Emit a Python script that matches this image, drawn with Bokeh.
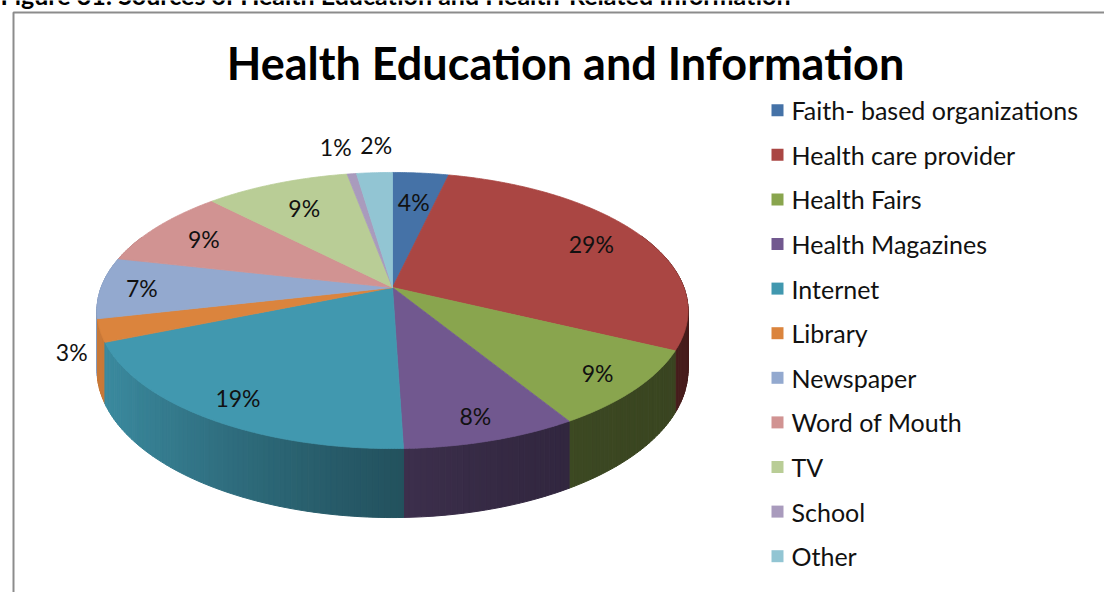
import numpy as np
from bokeh.plotting import figure
from bokeh.models import Range1d, ColumnDataSource
from bokeh.core.properties import value
from bokeh.embed import file_html
from bokeh.resources import INLINE

# ---------------- data ----------------
categories = ["Faith- based organizations", "Health care provider", "Health Fairs",
              "Health Magazines", "Internet", "Library", "Newspaper", "Word of Mouth",
              "TV", "School", "Other"]
values = [3.6, 28.6, 9.1, 8.2, 19.25, 2.65, 7.15, 9.25, 9.3, 0.6, 2.3]
colors = ["#4572A7", "#AA4643", "#89A54E", "#71588F", "#4198AF", "#DB843D",
          "#93A9CF", "#D19392", "#B9CD96", "#A99BBD", "#92C5D3"]
title = "Health Education and Information"
header = "Figure 31: Sources of Health Education and Health-Related Information"

# ---------------- geometry of the 3-D pie (screen px) ----------------
CX, CY = 392.0, 287.0      # centre of the top face
AX, BY = 291.4, 134.2      # projected radii
K = 0.1667                 # perspective strength
HD = 57.5                  # thickness
FONT = "Lato"
LABEL_PX = 23


def proj(theta, r=1.0, depth=0.0):
    u = r * np.sin(theta)
    v = -r * np.cos(theta)
    w = 1 - K * v
    return CX + AX * u / w, CY + (BY * v + HD * depth) / w


def shade(hexcol, f):
    h = hexcol.lstrip("#")
    rgb = [int(h[i:i + 2], 16) for i in (0, 2, 4)]
    return "#%02x%02x%02x" % tuple(max(0, min(255, int(round(c * f)))) for c in rgb)


vals = np.array(values, dtype=float)
fr = vals / vals.sum()
ends = np.cumsum(fr) * 2 * np.pi
starts = ends - fr * 2 * np.pi

xmin_e = CX - AX / np.sqrt(1 - K * K)
xmax_e = CX + AX / np.sqrt(1 - K * K)

# side strips
side = []
step = np.radians(1.0)
for i in range(len(values)):
    n = max(2, int(np.ceil((ends[i] - starts[i]) / step)))
    th = np.linspace(starts[i], ends[i], n + 1)
    for j in range(n):
        a, b = th[j], th[j + 1]
        mid = 0.5 * (a + b)
        vmid = -np.cos(mid)
        if vmid < -0.4:
            continue
        x1, y1 = proj(a)
        x2, y2 = proj(b)
        x3, y3 = proj(b, depth=1)
        x4, y4 = proj(a, depth=1)
        xm = proj(mid)[0]
        t = (xm - xmin_e) / (xmax_e - xmin_e)
        f = 0.42 + 0.5 * (1 - t) ** 2
        side.append((vmid, [x1, x2, x3, x4], [y1, y2, y3, y4], shade(colors[i], f)))
side.sort(key=lambda s: s[0])
side_src = ColumnDataSource(dict(xs=[s[1] for s in side], ys=[s[2] for s in side],
                                 c=[s[3] for s in side]))

# top faces
top_xs, top_ys = [], []
for i in range(len(values)):
    n = max(3, int(np.ceil((ends[i] - starts[i]) / np.radians(0.5))))
    th = np.linspace(starts[i], ends[i], n + 1)
    ax_, ay_ = proj(th)
    top_xs.append([CX] + list(ax_))
    top_ys.append([CY] + list(ay_))
top_src = ColumnDataSource(dict(xs=top_xs, ys=top_ys, c=colors, name=categories))

# data labels
lab_x, lab_y, lab_t, outside = [], [], [], []
for i, v in enumerate(values):
    mid = 0.5 * (starts[i] + ends[i])
    pct = int(v / vals.sum() * 100 + 0.5)
    vv = -np.cos(mid)
    if v >= 3:
        r = 0.86 + 0.14 * min(vv, 0.0)
        x, y = proj(mid, r=r)
        outside.append(False)
    else:
        x, y = proj(mid)
        if vv > 0:
            y += 0.27 * HD / (1 - K * vv)
        dx, dy = x - CX, y - CY
        d = np.hypot(dx, dy)
        x += 29 * dx / d
        y += 28 * dy / d
        outside.append(True)
    lab_x.append(x)
    lab_y.append(y)
    lab_t.append(f"{pct}%")

# spread outside labels that would collide
idx = [i for i in range(len(values)) if outside[i]]
for _ in range(20):
    for a in idx:
        for b in idx:
            if a >= b:
                continue
            if abs(lab_y[a] - lab_y[b]) > LABEL_PX:
                continue
            need = 0.5 * LABEL_PX * 0.62 * (len(lab_t[a]) + len(lab_t[b])) + 12
            gap = abs(lab_x[a] - lab_x[b])
            if gap < need:
                s = (need - gap) / 2
                if lab_x[a] <= lab_x[b]:
                    lab_x[a] -= s
                    lab_x[b] += s
                else:
                    lab_x[a] += s
                    lab_x[b] -= s

# ---------------- figure ----------------
p = figure(width=1104, height=592, x_range=Range1d(0, 1104), y_range=Range1d(592, 0),
           output_backend="svg", toolbar_location=None, min_border=0,
           x_axis_type=None, y_axis_type=None)
p.grid.visible = False
p.outline_line_color = None
p.background_fill_color = "white"
p.border_fill_color = "white"

# chart frame (extends beyond the visible area)
p.line(x=[13, 13, 1200], y=[700, 12, 12], line_color="#8c8c8c", line_width=2)

p.patches("xs", "ys", source=side_src, fill_color="c", line_color="c", line_width=1)
p.patches("xs", "ys", source=top_src, fill_color="c", line_color="c", line_width=0.8)

p.text(x=lab_x, y=lab_y, text=lab_t, text_font=value(FONT),
       text_font_size=f"{LABEL_PX}px",
       text_align="center", text_baseline="middle", text_color="#111111")

# legend
leg_y = [109.7 + 44.6 * i for i in range(len(categories))]
p.scatter(x=[777] * len(categories), y=leg_y, marker="square", size=12,
          fill_color=colors, line_color=None)
p.text(x=[791] * len(categories), y=leg_y, text=categories, text_font=value(FONT),
       text_font_size="25px", text_align="left", text_baseline="middle",
       text_color="#111111")

# titles
p.text(x=[565], y=[62], text=[title], text_font=value(FONT), text_font_style="bold",
       text_font_size="45px", text_align="center", text_baseline="middle",
       text_color="#000000")
p.text(x=[0], y=[-6], text=[header], text_font=value(FONT), text_font_style="bold",
       text_font_size="25px", text_align="left", text_baseline="middle",
       text_color="#000000")

open("out.html", "w").write(file_html(p, INLINE))
